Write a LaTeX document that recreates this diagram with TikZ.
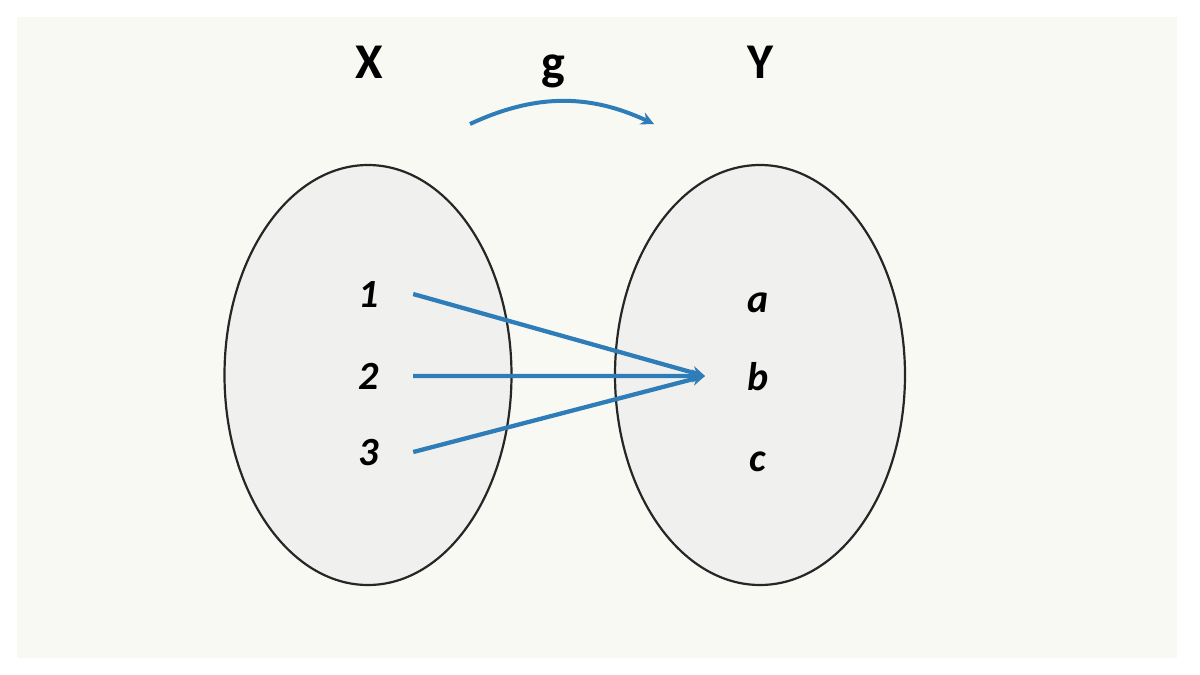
\documentclass[tikz,border=0pt]{standalone}
\usepackage{fontspec}
\setmainfont{Carlito}
\usetikzlibrary{arrows.meta,shapes.geometric}
\definecolor{mapblue}{HTML}{2F7DB8}
\definecolor{setfill}{HTML}{F0F0EF}
\definecolor{paper}{HTML}{F9F9F3}
\tikzset{map/.style={draw=mapblue,line width=4.3pt,-{Stealth[length=13pt,width=13pt]}}}
\tikzset{setshape/.style={ellipse,draw=black!85,line width=2.2pt,fill=setfill,minimum width=287pt,minimum height=420pt}}
\tikzset{setname/.style={font=\fontsize{50}{50}\selectfont\bfseries,inner sep=0pt,anchor=base}}
\tikzset{elem/.style={font=\fontsize{40}{40}\selectfont\bfseries\itshape,inner sep=0pt,minimum width=88pt,anchor=base}}

\begin{document}
\begin{tikzpicture}[x=1pt,y=-1pt]
          \useasboundingbox (0,0) rectangle (1200,675);
          \fill[paper] (17,17) rectangle (1177,658);

          % the two sets
          \node (setX) at (368,375) [setshape] {};
          \node (setY) at (760,375) [setshape,minimum width=290pt] {};
          \node (lblX) at (369,78) [setname] {X};
          \node (lblY) at (760,78) [setname] {Y};

          % elements
          \node (n1) at (369,307) [elem] {1};
          \node (n2) at (369,389) [elem] {2};
          \node (n3) at (369,465) [elem] {3};
          \node (ya) at (758,312) [elem] {a};
          \node (yb) at (758,390) [elem] {b};
          \node (yc) at (758,471) [elem] {c};

          % the map g
          \coordinate (gl) at (470,124);
          \coordinate (gr) at (654,124);
          \draw[map,line width=4pt] (gl) to[bend left=25] (gr);
          \node (lblg) at (553,79) [setname] {g};

          \coordinate (tip) at (705,376);
          \draw[map] (n1.east) -- (tip);
          \draw[map] (n2.east) -- (tip);
          \draw[map] (n3.east) -- (tip);
        \end{tikzpicture}
\end{document}
